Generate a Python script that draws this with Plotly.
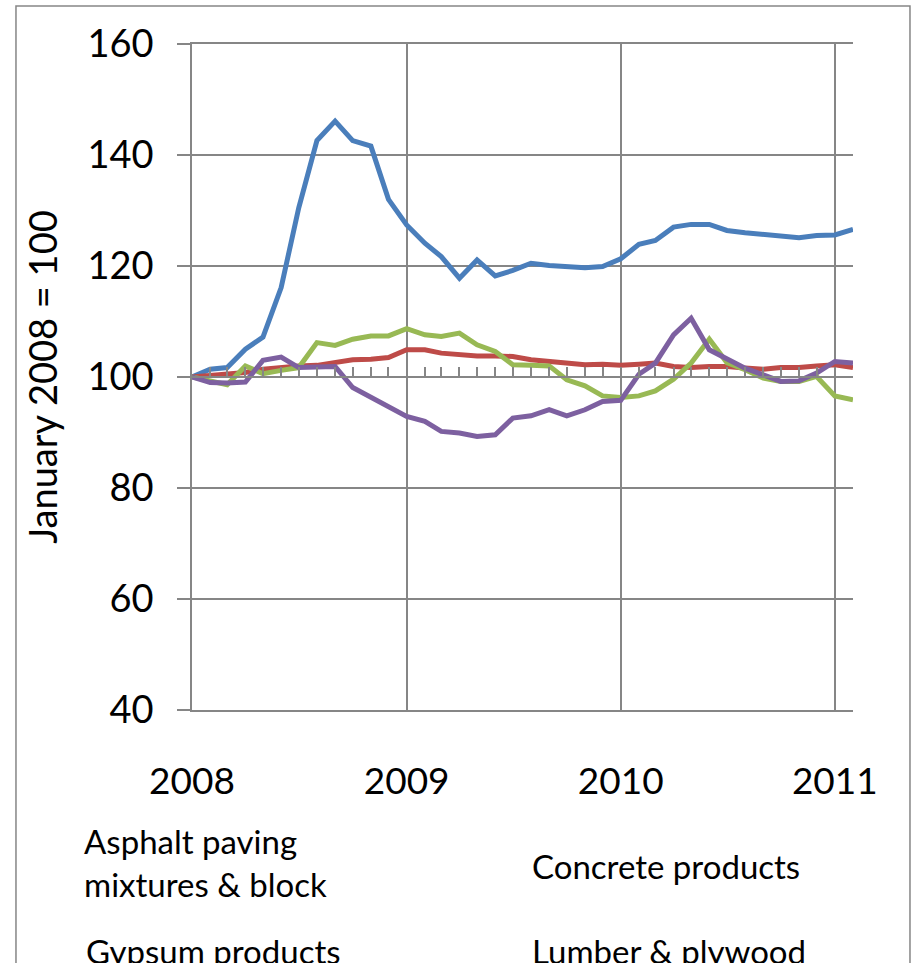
import plotly.graph_objects as go

# Monthly index values, January 2008 = 100 (Jan 2008 .. Feb 2011)
months = [f"{y}-{m:02d}-01" for y in (2008, 2009, 2010) for m in range(1, 13)] + ["2011-01-01", "2011-02-01"]

series_names = [
    "Asphalt paving<br>mixtures & block",
    "Concrete products",
    "Gypsum products",
    "Lumber & plywood",
]

asphalt = [100.0, 101.4, 101.7, 105.0, 107.2, 116.1, 130.5, 142.6, 146.1, 142.6, 141.6, 132.0,
           127.4, 124.1, 121.7, 117.8, 121.1, 118.2, 119.2, 120.5, 120.1, 119.8, 119.7, 119.9,
           121.3, 123.9, 124.6, 127.0, 127.5, 127.5, 126.4, 126.0, 125.7, 125.6, 125.1, 125.5,
           125.6, 126.6]
concrete = [100.0, 100.2, 100.4, 100.8, 101.4, 101.8, 102.0, 102.1, 102.6, 103.1, 103.2, 103.5,
            104.9, 104.9, 104.3, 104.0, 103.8, 103.8, 103.7, 103.1, 102.8, 102.3, 102.2, 102.3,
            102.1, 102.3, 102.5, 101.9, 101.7, 101.9, 101.9, 101.6, 101.4, 101.7, 101.7, 102.0,
            102.2, 101.7]
gypsum = [100.0, 99.3, 98.6, 102.0, 100.6, 101.2, 101.7, 106.2, 105.7, 106.8, 107.4, 107.4,
          108.7, 107.6, 107.3, 107.9, 105.8, 104.6, 102.2, 102.1, 102.0, 99.5, 98.4, 96.6,
          96.3, 96.6, 97.5, 99.6, 102.5, 106.8, 102.6, 101.3, 99.8, 99.2, 99.2, 100.1,
          96.6, 95.9]
lumber = [100.0, 99.0, 98.9, 99.1, 103.0, 103.6, 101.7, 101.7, 101.9, 98.1, 96.3, 94.8,
          92.9, 92.0, 90.2, 89.9, 89.3, 89.6, 92.6, 93.0, 94.1, 93.0, 94.1, 95.6,
          95.8, 100.5, 102.5, 107.6, 110.6, 104.9, 103.2, 101.6, 100.4, 99.2, 99.3, 100.7,
          102.8, 102.5]

colors = ["#4A7EBB", "#BE4B48", "#98B954", "#7D60A0"]
GRID = "#868686"
FONT = "Lato"

fig = go.Figure()

# empty trace that brings the crossing axis (x2) into being
fig.add_trace(go.Scatter(x=[months[0]], y=[None], xaxis="x2", yaxis="y",
                         mode="lines", showlegend=False, hoverinfo="skip"))

for name, vals, col in zip(series_names, [asphalt, concrete, gypsum, lumber], colors):
    fig.add_trace(go.Scatter(
        x=months, y=vals, mode="lines", name=name.replace("<br>", " "),
        line=dict(color=col, width=5), showlegend=False,
    ))

x_range = [months[0], months[-1]]

fig.update_layout(
    width=912, height=963,
    margin=dict(l=192, r=59, t=44, b=253),
    paper_bgcolor="white", plot_bgcolor="white",
    font=dict(family=FONT, color="black"),
    xaxis=dict(
        type="date", range=x_range, tick0="2008-01-01", dtick="M12", tickformat="%Y",
        showgrid=True, gridcolor=GRID, gridwidth=1.5,
        showline=True, linecolor=GRID, linewidth=1.5, mirror=True,
        ticks="", tickfont=dict(family=FONT, size=37, color="black"),
        ticklabelstandoff=38, zeroline=False,
    ),
    # axis line crossing at 100 with monthly tick marks
    xaxis2=dict(
        type="date", range=x_range, overlaying="x", anchor="free", position=0.5,
        side="bottom",
        showline=True, linecolor=GRID, linewidth=1.5,
        ticks="inside", ticklen=9, tickwidth=1.5, tickcolor=GRID,
        tick0="2008-01-01", dtick="M1", showticklabels=False,
        showgrid=False, zeroline=False,
    ),
    yaxis=dict(
        range=[40, 160], tick0=40, dtick=20,
        showgrid=True, gridcolor=GRID, gridwidth=1.5,
        showline=True, linecolor=GRID, linewidth=1.5,
        ticks="outside", ticklen=13, tickwidth=1.5, tickcolor=GRID,
        tickfont=dict(family=FONT, size=38, color="black"),
        ticklabelstandoff=16, zeroline=False,
        title=dict(text="January 2008 = 100", font=dict(family=FONT, size=38, color="black"),
                   standoff=18),
    ),
)

# chart frame
fig.add_shape(type="rect", xref="paper", yref="paper",
              x0=-0.2663, x1=1.0862, y0=-0.42, y1=1.0571,
              line=dict(color=GRID, width=1.5), fillcolor="rgba(0,0,0,0)", layer="below")

# text-only legend in two columns
legend_pos = [(-0.1664, -0.229), (0.5113, -0.234), (-0.1634, -0.362), (0.5113, -0.362)]
for name, (lx, ly) in zip(series_names, legend_pos):
    fig.add_annotation(text=name, xref="paper", yref="paper", x=lx, y=ly,
                       xanchor="left", yanchor="middle", align="left", showarrow=False,
                       font=dict(family=FONT, size=33, color="black"))

fig.write_html("out.html")
